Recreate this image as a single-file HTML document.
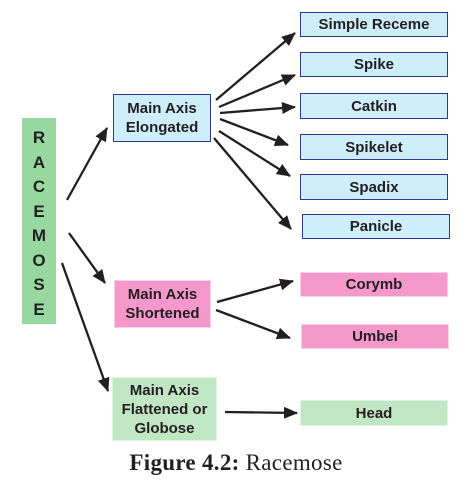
<!DOCTYPE html>
<html><head><style>
body{margin:0;width:476px;height:486px;background:#fff;position:relative;font-family:"Liberation Sans",sans-serif;overflow:hidden}
.b{position:absolute;box-sizing:border-box;display:flex;align-items:center;justify-content:center;text-align:center;font-weight:bold;font-size:15px;color:#231f20;line-height:19px}
.bl{background:#cdeefa;border:1.5px solid #2b3990}
.pk{background:#f598cc;border:1px solid #fbd0e6}
.gr{background:#c0e6c4;border:1px solid #e0f3e2}
</style></head><body>
<div class="b" style="left:22px;top:118px;width:34px;height:206px;background:#97d8a0;flex-direction:column;font-size:17px;line-height:24.5px;padding-top:6px">R<br>A<br>C<br>E<br>M<br>O<br>S<br>E</div>
<div class="b bl" style="left:113px;top:94px;width:98px;height:48px">Main Axis<br>Elongated</div>
<div class="b pk" style="left:114px;top:280px;width:97px;height:48px">Main Axis<br>Shortened</div>
<div class="b gr" style="left:112px;top:377px;width:105px;height:64px">Main Axis<br>Flattened or<br>Globose</div>
<div class="b bl" style="left:300px;top:12px;width:148px;height:25px">Simple Receme</div>
<div class="b bl" style="left:300px;top:52px;width:148px;height:25px">Spike</div>
<div class="b bl" style="left:300px;top:93px;width:148px;height:26px">Catkin</div>
<div class="b bl" style="left:300px;top:134px;width:148px;height:26px">Spikelet</div>
<div class="b bl" style="left:300px;top:174px;width:148px;height:26px">Spadix</div>
<div class="b bl" style="left:302px;top:214px;width:148px;height:25px">Panicle</div>
<div class="b pk" style="left:300px;top:272px;width:148px;height:25px">Corymb</div>
<div class="b pk" style="left:301px;top:324px;width:148px;height:25px">Umbel</div>
<div class="b gr" style="left:300px;top:400px;width:148px;height:26px">Head</div>
<svg width="476" height="486" style="position:absolute;left:0;top:0">
<defs><marker id="m" markerWidth="14" markerHeight="12" refX="13" refY="6" orient="auto" markerUnits="userSpaceOnUse"><path d="M0,0 L14,6 L0,12z" fill="#231f20"/></marker></defs>
<g stroke="#231f20" stroke-width="2.3" fill="none" marker-end="url(#m)">
<line x1="67" y1="200" x2="107" y2="128"/>
<line x1="69" y1="233" x2="105" y2="283"/>
<line x1="62" y1="263" x2="108" y2="391"/>
<line x1="216" y1="100" x2="295" y2="33"/>
<line x1="219" y1="107" x2="295" y2="75"/>
<line x1="220" y1="113" x2="295" y2="107"/>
<line x1="220" y1="119" x2="288" y2="145"/>
<line x1="219" y1="131" x2="290" y2="176"/>
<line x1="214" y1="138" x2="291" y2="229"/>
<line x1="217" y1="302" x2="293" y2="281"/>
<line x1="216" y1="310" x2="290" y2="338"/>
<line x1="225" y1="412" x2="297" y2="413"/>
</g></svg>
<div style="position:absolute;left:0;width:472px;top:450px;text-align:center;font-family:'Liberation Serif',serif;font-size:23px;color:#231f20;letter-spacing:0.3px"><b>Figure 4.2:</b> Racemose</div>
</body></html>
